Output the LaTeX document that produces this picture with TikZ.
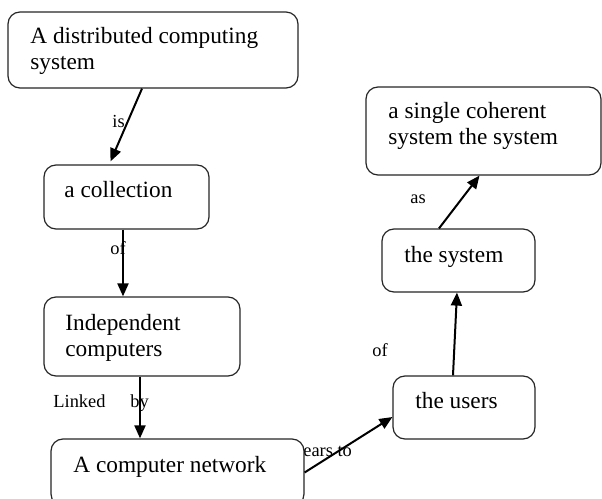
\documentclass[tikz,border=0pt]{standalone}
\usepackage{fontspec}
\setmainfont{Liberation Serif}
\usetikzlibrary{arrows.meta}
\begin{document}
\begin{tikzpicture}[x=0.5pt,y=-0.5pt,
  box/.style={draw=black!85,line width=0.6pt,rounded corners=6pt,fill=white,inner sep=0pt},
  txt/.style={anchor=base west,inner sep=0pt,align=left,font=\fontsize{11.65}{13}\selectfont},
  lbl/.style={anchor=base west,inner sep=0pt,font=\fontsize{9.2}{11}\selectfont},
  conn/.style={line width=1pt,-{Triangle[length=6.5pt,width=5.5pt]}}]
\useasboundingbox (0,0) rectangle (602,499);
\clip (0,0) rectangle (602,499);
% boxes
\node[box,minimum width=145pt,minimum height=38pt] (b1) at (153,50) {};
\node[box,minimum width=82.5pt,minimum height=32pt] (b2) at (126.5,197) {};
\node[box,minimum width=98pt,minimum height=39.5pt] (b3) at (142,336.5) {};
\node[box,minimum width=117.5pt,minimum height=44pt] (b5) at (483.5,131) {};
\node[box,minimum width=76.5pt,minimum height=31.5pt] (b6) at (458.5,260.5) {};
\node[box,minimum width=71pt,minimum height=31.5pt] (b7) at (464,407.5) {};
% texts (base anchor = baseline of last line)
\node[txt] (t1) at (30,69) {A distributed computing\\system};
\node[txt] (t2) at (64,197) {a collection};
\node[txt] (t3) at (65,356) {Independent\\computers};
\node[txt] (t5) at (388,144) {a single coherent\\system the system};
\node[txt] (t6) at (404,262) {the system};
\node[txt] (t7) at (415,408) {the users};
% labels
\node[lbl] (l1) at (112,127) {is};
\node[lbl] (l2) at (110,254) {of};
\node[lbl] (l3) at (53,407) {Linked};
\node[lbl] (l4) at (130,407) {by};
\node[lbl] (l5) at (303,456) {ears to};
\node[lbl] (l6) at (372,356) {of};
\node[lbl] (l7) at (410,203) {as};
% bottom box
\node[box,minimum width=126.5pt,minimum height=33.5pt] (b4) at (177.5,472.5) {};
\node[txt] (t4) at (73,472) {A computer network};
% connectors
\draw[conn] ([xshift=-5.5pt]b1.south) -- ([xshift=-8pt,yshift=1.5pt]b2.north);
\draw[conn] ([xshift=-1.75pt]b2.south) -- ([xshift=-9.5pt]b3.north);
\draw[conn] ([xshift=-1pt]b3.south) -- ([xshift=-18.75pt]b4.north);
\draw[conn] (b4.east) -- ([yshift=-4.75pt]b7.west);
\draw[conn] ([xshift=-5.5pt]b7.north) -- ([xshift=-0.75pt]b6.south);
\draw[conn] ([xshift=-9.75pt]b6.north) -- ([xshift=-2pt]b5.south);
\end{tikzpicture}
\end{document}
